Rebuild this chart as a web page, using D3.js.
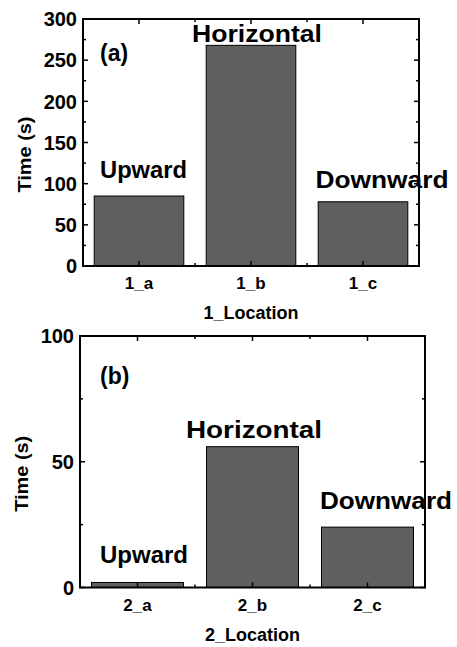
<!DOCTYPE html>
<html>
<head>
<meta charset="utf-8">
<script src="https://cdn.jsdelivr.net/npm/d3@7"></script>
<style>
body{margin:0;background:#fff;}
text{font-family:"Liberation Sans",Arial,sans-serif;font-weight:bold;fill:#000;}
</style>
</head>
<body>
<svg id="chart" width="457" height="647"></svg>
<script>
const categoriesA=["1_a","1_b","1_c"];
const valuesA=[85,268,78];
const ticksA=[0,50,100,150,200,250,300];

const categoriesB=["2_a","2_b","2_c"];
const valuesB=[2,56,24];
const ticksB=[0,50,100];

const barLabels=["Upward","Horizontal","Downward"];

const svg=d3.select("#chart");

// one panel: box, bars, ticks on all four sides, labels
function drawPanel(o){
    const x=d3.scaleBand()
        .domain(o.cats)
        .range([o.left,o.right])
        .paddingInner(0).paddingOuter(0);
    const y=d3.scaleLinear()
        .domain([0,o.max])
        .range([o.bottom,o.top]);
    const g=svg.append("g");

    g.selectAll(".bar")
        .data(o.vals)
        .enter()
        .append("rect")
        .attr("x",(d,i)=>x(o.cats[i])+x.bandwidth()*0.1)
        .attr("y",d=>y(d))
        .attr("width",x.bandwidth()*0.8)
        .attr("height",d=>o.bottom-y(d))
        .attr("fill","#5f5f5f")
        .attr("stroke","#000")
        .attr("stroke-width",1);

    // inward ticks, major + minor
    const minor=d3.range(0,o.max+1,25).filter(v=>v%50!==0);
    const tk=g.append("g").attr("stroke","#000").attr("stroke-width",1.5);
    o.ticks.forEach(v=>{
        tk.append("line").attr("x1",o.left).attr("x2",o.left+5).attr("y1",y(v)).attr("y2",y(v));
        tk.append("line").attr("x1",o.right).attr("x2",o.right-5).attr("y1",y(v)).attr("y2",y(v));
    });
    minor.forEach(v=>{
        tk.append("line").attr("x1",o.left).attr("x2",o.left+3).attr("y1",y(v)).attr("y2",y(v));
        tk.append("line").attr("x1",o.right).attr("x2",o.right-3).attr("y1",y(v)).attr("y2",y(v));
    });
    o.cats.forEach((c,i)=>{
        const cx=x(c)+x.bandwidth()/2;
        tk.append("line").attr("x1",cx).attr("x2",cx).attr("y1",o.bottom).attr("y2",o.bottom-5);
        tk.append("line").attr("x1",cx).attr("x2",cx).attr("y1",o.top).attr("y2",o.top+5);
        if(i>0){
            const bx=x(c);
            tk.append("line").attr("x1",bx).attr("x2",bx).attr("y1",o.bottom).attr("y2",o.bottom-3);
            tk.append("line").attr("x1",bx).attr("x2",bx).attr("y1",o.top).attr("y2",o.top+3);
        }
    });

    g.append("rect")
        .attr("x",o.left).attr("y",o.top)
        .attr("width",o.right-o.left).attr("height",o.bottom-o.top)
        .attr("fill","none").attr("stroke","#000").attr("stroke-width",2);

    g.selectAll(".ytick")
        .data(o.ticks)
        .enter()
        .append("text")
        .attr("x",o.left-6)
        .attr("y",d=>y(d))
        .attr("dy","0.36em")
        .attr("text-anchor","end")
        .style("font-size","20px")
        .text(d=>d);

    g.selectAll(".xtick")
        .data(o.cats)
        .enter()
        .append("text")
        .attr("x",d=>x(d)+x.bandwidth()/2)
        .attr("y",o.bottom+23)
        .attr("text-anchor","middle")
        .style("font-size","17px")
        .text(d=>d);

    g.append("text")
        .attr("x",(o.left+o.right)/2)
        .attr("y",o.bottom+53)
        .attr("text-anchor","middle")
        .style("font-size","18px")
        .text(o.xTitle);

    g.append("text")
        .attr("transform",`translate(${o.left-52},${(o.top+o.bottom)/2+12}) rotate(-90)`)
        .attr("text-anchor","middle")
        .attr("textLength",76)
        .attr("lengthAdjust","spacingAndGlyphs")
        .style("font-size","19px")
        .text("Time (s)");

    g.append("text")
        .attr("x",o.left+o.tagDx)
        .attr("y",o.top+o.tagDy)
        .style("font-size","23px")
        .text(o.tag);

    barLabels.forEach((t,i)=>{
        const a=o.labelPos[i];
        g.append("text")
            .attr("x",x(o.cats[i])+x.bandwidth()/2+a[0])
            .attr("y",y(a[1]))
            .attr("text-anchor","middle")
            .attr("textLength",a[2])
            .attr("lengthAdjust","spacingAndGlyphs")
            .style("font-size","24px")
            .text(t);
    });
}

drawPanel({
    cats:categoriesA,vals:valuesA,ticks:ticksA,max:300,
    left:83,right:419,top:19,bottom:266,
    xTitle:"1_Location",tag:"(a)",tagDx:17,tagDy:42,
    labelPos:[[4.5,107,87],[6,272,130],[19,95,133]]
});

drawPanel({
    cats:categoriesB,vals:valuesB,ticks:ticksB,max:100,
    left:80,right:425,top:336,bottom:587.5,
    xTitle:"2_Location",tag:"(b)",tagDx:20,tagDy:48,
    labelPos:[[6.5,9.7,88],[1.5,59.4,136],[18.5,31.2,132]]
});
</script>
</body>
</html>
